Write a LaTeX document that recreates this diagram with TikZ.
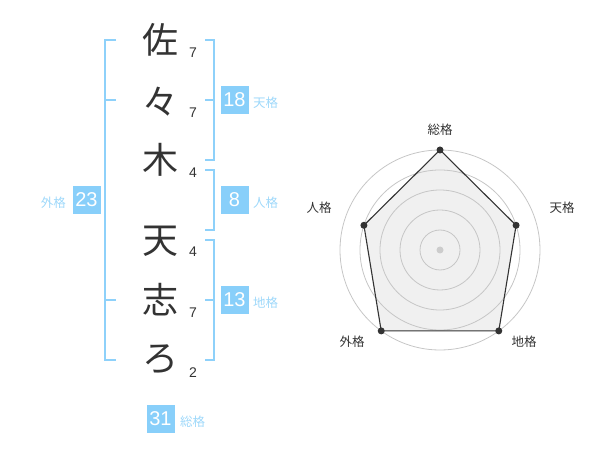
\documentclass[tikz,border=0pt]{standalone}
\usepackage{fontspec}
\setmainfont{Liberation Sans}
\newfontfamily\jp{Noto Sans CJK JP}
\definecolor{bracketblue}{HTML}{8ED1FA}
\definecolor{boxblue}{HTML}{88CFFA}
\definecolor{labelblue}{HTML}{9ED8FA}
\definecolor{inkgray}{HTML}{333333}
\tikzset{
  kanji/.style={font=\jp\fontsize{36}{36}\selectfont, text=inkgray, inner sep=0pt},
  strokes/.style={font=\fontsize{14}{14}\selectfont, text=inkgray, inner sep=0pt},
  score/.style={fill=boxblue, text=white, font=\fontsize{20}{20}\selectfont, minimum size=28pt, inner sep=0pt},
  kaku/.style={font=\jp\fontsize{12.5}{12.5}\selectfont, text=labelblue, inner sep=0pt},
  bracket/.style={draw=bracketblue, line width=2pt},
  ring/.style={draw=gray!45, line width=0.8pt},
  axislabel/.style={font=\jp\fontsize{12.5}{12.5}\selectfont, text=inkgray, inner sep=0pt},
  dot/.style={circle, fill=inkgray, inner sep=0pt, minimum size=7pt}
}
\begin{document}
\begin{tikzpicture}[x=1pt, y=-1pt]
\useasboundingbox (0,0) rectangle (600,470);

% Name
\node[kanji] (c1) at (160,40) {佐};
\node[kanji] (c2) at (160,102) {々};
\node[kanji] (c3) at (160,160) {木};
\node[kanji] (c4) at (160,241) {天};
\node[kanji] (c5) at (160,300) {志};
\node[kanji] (c6) at (160,359) {ろ};

% Strokes
\node[strokes] (n1) at (193,53) {7};
\node[strokes] (n2) at (193,113) {7};
\node[strokes] (n3) at (193,173) {4};
\node[strokes] (n4) at (193,252) {4};
\node[strokes] (n5) at (193,313) {7};
\node[strokes] (n6) at (193,373) {2};

% Outer bracket
\draw[bracket] (116,40) -- (105,40) -- (105,360) -- (116,360);
\draw[bracket] (105,100) -- (116,100);
\draw[bracket] (105,300) -- (116,300);
\node[score] (gai) at (86.5,200) {23};
\node[kaku, anchor=east] (gailabel) at (66,203) {外格};

% Right brackets
\draw[bracket] (205,40) -- (214,40) -- (214,160) -- (205,160);
\draw[bracket] (205,100) -- (214,100);
\draw[bracket] (205,170) -- (214,170) -- (214,230) -- (205,230);
\draw[bracket] (205,240) -- (214,240) -- (214,360) -- (205,360);
\draw[bracket] (205,300) -- (214,300);
\node[score] (ten) at (234.5,100) {18};
\node[kaku, anchor=west] (tenlabel) at (253,103) {天格};
\node[score] (jin) at (234.5,200) {8};
\node[kaku, anchor=west] (jinlabel) at (253,203) {人格};
\node[score] (chi) at (234.5,300) {13};
\node[kaku, anchor=west] (chilabel) at (253,303) {地格};

% Total
\node[score] (sou) at (160.5,419) {31};
\node[kaku, anchor=west] (soulabel) at (180,422) {総格};

% Radar (y points down, so angles are mirrored)
\begin{scope}[shift={(440,250)}]
\fill[gray!12] (-90:100) -- (-18:80) -- (54:100) -- (126:100) -- (-162:80) -- cycle;
\foreach \r in {20,40,...,100}
  \draw[ring] (0,0) circle[radius=\r];
\draw[inkgray, line width=1.1pt, line join=round] (-90:100) -- (-18:80) -- (54:100) -- (126:100) -- (-162:80) -- cycle;
\node[dot] (psou) at (-90:100) {};
\node[dot] (pten) at (-18:80) {};
\node[dot] (pchi) at (54:100) {};
\node[dot] (pgai) at (126:100) {};
\node[dot] (pjin) at (-162:80) {};
\node[circle, fill=gray!40, inner sep=0pt, minimum size=7pt] (center) at (0,0) {};
\end{scope}
\node[axislabel] (asou) at (440,130) {総格};
\node[axislabel] (aten) at (562,208) {天格};
\node[axislabel] (ajin) at (319,208) {人格};
\node[axislabel] (agai) at (352,342) {外格};
\node[axislabel] (achi) at (524,342) {地格};
\end{tikzpicture}
\end{document}
